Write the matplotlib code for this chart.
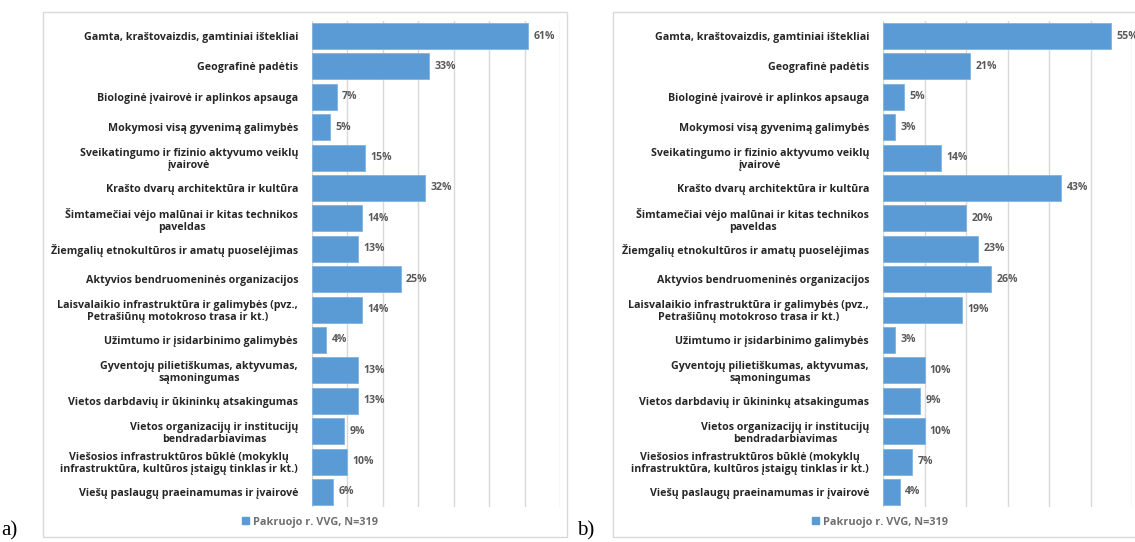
import matplotlib.pyplot as plt
from matplotlib.patches import Rectangle, Patch

# --- DATOS ---
categorias = [
    "Gamta, kraštovaizdis, gamtiniai ištekliai",
    "Geografinė padėtis",
    "Biologinė įvairovė ir aplinkos apsauga",
    "Mokymosi visą gyvenimą galimybės",
    "Sveikatingumo ir fizinio aktyvumo veiklų\nįvairovė",
    "Krašto dvarų architektūra ir kultūra",
    "Šimtamečiai vėjo malūnai ir kitas technikos\npaveldas",
    "Žiemgalių etnokultūros ir amatų puoselėjimas",
    "Aktyvios bendruomeninės organizacijos",
    "Laisvalaikio infrastruktūra ir galimybės (pvz.,\nPetrašiūnų motokroso trasa ir kt.)",
    "Užimtumo ir įsidarbinimo galimybės",
    "Gyventojų pilietiškumas, aktyvumas,\nsąmoningumas",
    "Vietos darbdavių ir ūkininkų atsakingumas",
    "Vietos organizacijų ir institucijų\nbendradarbiavimas",
    "Viešosios infrastruktūros būklė (mokyklų\ninfrastruktūra, kultūros įstaigų tinklas ir kt.)",
    "Viešų paslaugų praeinamumas ir įvairovė",
]
valores_a = [61, 33, 7, 5, 15, 32, 14, 13, 25, 14, 4, 13, 13, 9, 10, 6]
valores_b = [55, 21, 5, 3, 14, 43, 20, 23, 26, 19, 3, 10, 9, 10, 7, 4]
serie = "Pakruojo r. VVG, N=319"

W, H = 1135, 542
azul = "#5b9bd5"
gris = "#d9d9d9"
fuente = "Open Sans"

fig = plt.figure(figsize=(W / 100, H / 100), dpi=100)


def panel(x0, ancho, xmax, valores, marco_x0, marco_x1, leyenda_x, letra, letra_x):
    # marco del grafico
    fig.patches.append(Rectangle((marco_x0 / W, 1 - 537 / H), (marco_x1 - marco_x0) / W, 525 / H,
                                 transform=fig.transFigure, fill=False, edgecolor=gris,
                                 lw=1, clip_on=False))
    ax = fig.add_axes([x0 / W, 1 - 507.2 / H, ancho / W, (507.2 - 20.8) / H])
    y = list(range(len(categorias)))
    ax.barh(y, valores, height=0.86, color=azul, edgecolor="#7fb2e0", lw=0.6, zorder=3)
    for yi, v in zip(y, valores):
        ax.text(v + 1.5 * xmax / 70, yi, f"{v}%", va="center", ha="left", fontsize=7.6,
                color="#595959", fontweight="bold", family=fuente, clip_on=False)
    ax.set_xlim(0, xmax)
    ax.set_ylim(len(categorias) - 0.5, -0.5)
    ax.set_xticks(range(0, xmax + 1, 10))
    ax.set_xticklabels([])
    ax.set_yticks(y)
    ax.set_yticklabels(categorias, fontsize=7.7, fontweight="bold", family=fuente,
                       color="#262626", multialignment="center", linespacing=1.1)
    ax.tick_params(axis="both", length=0)
    ax.tick_params(axis="y", pad=10)
    ax.grid(axis="x", color=gris, lw=1, zorder=0)
    for s in ax.spines.values():
        s.set_visible(False)
    ax.set_facecolor("none")
    fig.legend(handles=[Patch(color=azul)], labels=[serie], loc="center",
               bbox_to_anchor=(leyenda_x / W, 1 - 522 / H), frameon=False,
               handlelength=0.6, handleheight=0.6, handletextpad=0.4,
               prop={"family": fuente, "size": 7.8, "weight": "bold"}, labelcolor="#6f6f6f")
    fig.text(letra_x / W, 1 - 540 / H, letra, family="Liberation Serif", fontsize=15,
             ha="left", va="bottom")
    return ax


panel(312, 248, 70, valores_a, 43, 567, 310, "a)", 1)
panel(883, 249, 60, valores_b, 613, 1160, 880, "b)", 577)

fig.savefig("out.png", dpi=100)
plt.close(fig)
